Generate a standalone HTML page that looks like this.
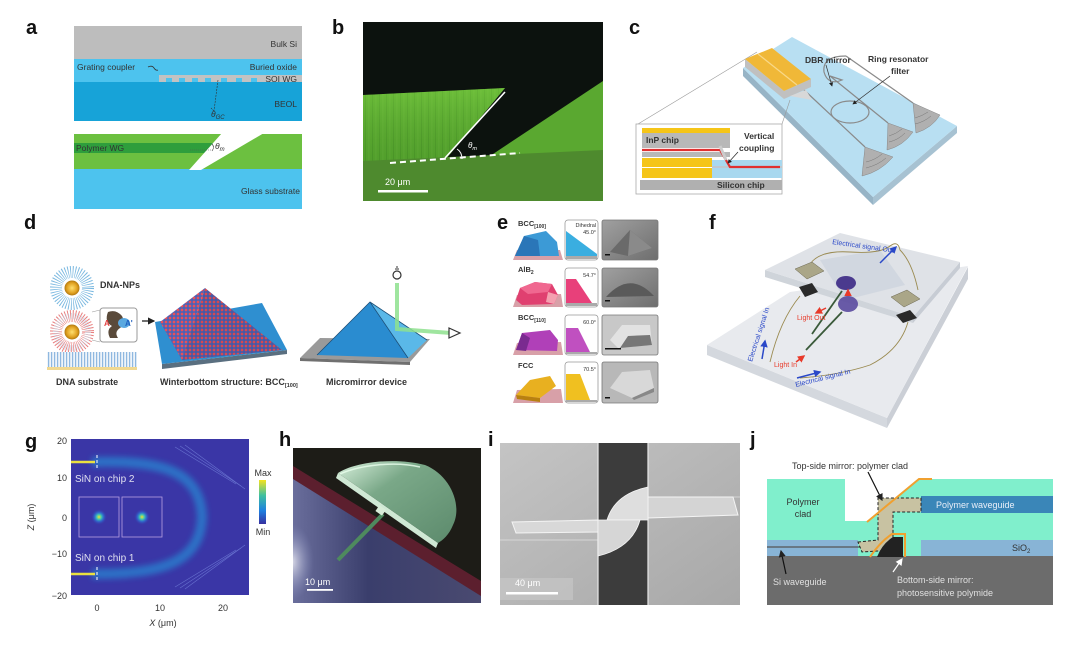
<!DOCTYPE html>
<html><head><meta charset="utf-8"><style>
html,body{margin:0;padding:0;background:#fff;}
svg{display:block;font-family:"Liberation Sans",Arial,sans-serif;}
</style></head><body>
<svg width="1080" height="651" viewBox="0 0 1080 651" xmlns="http://www.w3.org/2000/svg">
<defs>
<pattern id="pd" width="4" height="4" patternUnits="userSpaceOnUse"><rect width="4" height="4" fill="#4a62b8"/><circle cx="2" cy="2" r="1.35" fill="#e8505a"/></pattern>
<pattern id="strand" width="3" height="10" patternUnits="userSpaceOnUse"><rect width="3" height="10" fill="#eef4fa"/><rect x="0" width="1.2" height="10" fill="#8fb8e0"/></pattern>
<pattern id="bstreak" width="7" height="40" patternUnits="userSpaceOnUse"><rect width="7" height="40" fill="#62b534"/><rect x="1" width="1" height="40" fill="#4a9628" opacity=".5"/><rect x="4.5" width="0.8" height="40" fill="#80c84c" opacity=".5"/></pattern>
<linearGradient id="cb" x1="0" y1="0" x2="0" y2="1"><stop offset="0" stop-color="#f5e21e"/><stop offset=".35" stop-color="#3fc0a0"/><stop offset=".7" stop-color="#1e7fe0"/><stop offset="1" stop-color="#3630a0"/></linearGradient>
<radialGradient id="spot"><stop offset="0" stop-color="#f2e030"/><stop offset=".3" stop-color="#40c8b0"/><stop offset=".6" stop-color="#2a80e0" stop-opacity=".6"/><stop offset="1" stop-color="#3a38a8" stop-opacity="0"/></radialGradient>
<radialGradient id="gold"><stop offset="0" stop-color="#ffe070"/><stop offset=".7" stop-color="#e0a020"/><stop offset="1" stop-color="#b07810"/></radialGradient>
<radialGradient id="hglow"><stop offset="0" stop-color="#e8e8f0" stop-opacity=".9"/><stop offset="1" stop-color="#8890c0" stop-opacity="0"/></radialGradient>
<linearGradient id="sem" x1="0" y1="0" x2="1" y2="1"><stop offset="0" stop-color="#a0a0a0"/><stop offset="1" stop-color="#6e6e6e"/></linearGradient>
<linearGradient id="igr" x1="0" y1="0" x2="1" y2="1"><stop offset="0" stop-color="#c4c4c4"/><stop offset="1" stop-color="#a8a8a8"/></linearGradient>
<linearGradient id="hnavy" x1="0" y1="0" x2="1" y2="0"><stop offset="0" stop-color="#6a6e9c"/><stop offset=".4" stop-color="#3a3e6c"/><stop offset="1" stop-color="#4a4a70"/></linearGradient>
<linearGradient id="mir" x1="0" y1="0" x2="1" y2="1"><stop offset="0" stop-color="#d8f0dc"/><stop offset=".35" stop-color="#7aa888"/><stop offset="1" stop-color="#5c8a6c"/></linearGradient>
<linearGradient id="bgl" x1="0" y1="0" x2="0" y2="1"><stop offset="0" stop-color="#78c840" stop-opacity=".5"/><stop offset="1" stop-color="#2a6a18" stop-opacity=".3"/></linearGradient>
<filter id="bl3"><feGaussianBlur stdDeviation="3"/></filter>
<filter id="bl1"><feGaussianBlur stdDeviation="1.2"/></filter>
<clipPath id="cg"><rect x="71" y="439" width="178" height="156"/></clipPath>
<clipPath id="chh"><rect x="293" y="448" width="188" height="155"/></clipPath>
<clipPath id="cbb"><rect x="363" y="22" width="240" height="179"/></clipPath>
<marker id="ah" markerWidth="6" markerHeight="6" refX="5" refY="3" orient="auto"><path d="M0,0 L6,3 L0,6 Z" fill="#222"/></marker>
<marker id="ahw" markerWidth="6" markerHeight="6" refX="5" refY="3" orient="auto"><path d="M0,0 L6,3 L0,6 Z" fill="#fff"/></marker>
<marker id="ahr" markerWidth="5" markerHeight="5" refX="4" refY="2.5" orient="auto"><path d="M0,0 L5,2.5 L0,5 Z" fill="#e83a2a"/></marker>
<marker id="ahb" markerWidth="5" markerHeight="5" refX="4" refY="2.5" orient="auto"><path d="M0,0 L5,2.5 L0,5 Z" fill="#2a48c8"/></marker>
</defs>
<rect width="1080" height="651" fill="#fff"/>

<!-- panel letters -->
<g font-weight="bold" font-size="20" fill="#111">
<text x="26" y="34">a</text>
<text x="332" y="34">b</text>
<text x="629" y="34">c</text>
<text x="24" y="229">d</text>
<text x="497" y="229">e</text>
<text x="709" y="229">f</text>
<text x="25" y="448">g</text>
<text x="279" y="446">h</text>
<text x="488" y="446">i</text>
<text x="750" y="446">j</text>
</g>

<!-- ===== Panel a ===== -->
<rect x="74" y="26" width="228" height="34" fill="#bdbdbd"/>
<rect x="74" y="59" width="228" height="24" fill="#4dc3ee"/>
<rect x="74" y="82" width="228" height="39" fill="#17a3d8"/>
<rect x="159" y="75" width="143" height="7" fill="#c2c2c2"/>
<g fill="#4dc3ee"><rect x="166" y="78" width="6" height="4"/><rect x="179" y="78" width="6" height="4"/><rect x="192" y="78" width="6" height="4"/><rect x="205" y="78" width="6" height="4"/><rect x="221" y="78" width="6" height="4"/><rect x="236" y="78" width="6" height="4"/><rect x="251" y="78" width="6" height="4"/></g>
<path d="M218,80 L214,111 M214,111 l-3,-3" stroke="#333" stroke-width=".6" fill="none" stroke-dasharray="2 1"/>
<path d="M148,67 q4,-2 6,1 q2,3 4,2" stroke="#333" stroke-width=".8" fill="none"/>
<g font-size="8.5" fill="#333">
<text x="297" y="47" text-anchor="end">Bulk Si</text>
<text x="77" y="70">Grating coupler</text>
<text x="297" y="70" text-anchor="end">Buried oxide</text>
<text x="297" y="82" text-anchor="end">SOI WG</text>
<text x="297" y="107" text-anchor="end">BEOL</text>
<text x="211" y="117" font-style="italic">θ<tspan font-size="6" dy="2">GC</tspan></text>
</g>
<rect x="74" y="134" width="228" height="36" fill="#6cc040"/>
<rect x="74" y="143" width="140" height="10" fill="#2e9e3c"/>
<rect x="74" y="169" width="228" height="40" fill="#4dc3ee"/>
<polygon points="222,133 264,133 201,170 189,170" fill="#fff"/>
<path d="M190,150 L212,150" stroke="#555" stroke-width=".6" stroke-dasharray="1 1"/>
<path d="M212,144 q3,3 0,7" stroke="#333" stroke-width=".6" fill="none"/>
<g font-size="8.5" fill="#333">
<text x="76" y="151">Polymer WG</text>
<text x="215" y="149" font-style="italic">θ<tspan font-size="6" dy="2">m</tspan></text>
<text x="300" y="194" text-anchor="end">Glass substrate</text>
</g>

<!-- ===== Panel b ===== -->
<g clip-path="url(#cbb)">
<rect x="363" y="22" width="240" height="179" fill="#0c120e"/>
<polygon points="363,95 505,88 446,159 363,163" fill="url(#bstreak)"/>
<polygon points="363,95 505,88 446,159 363,163" fill="url(#bgl)"/>
<polygon points="490,156 603,81 603,152" fill="#5aa830"/>
<polygon points="363,161 603,150 603,201 363,201" fill="#4e8a2e"/>
</g>
<path d="M390,163 L520,153" stroke="#fff" stroke-width="2" stroke-dasharray="6 4"/>
<path d="M445,158 L505,92" stroke="#fff" stroke-width="1.6"/>
<path d="M457,149 q5,3 5,10" stroke="#fff" stroke-width="1" fill="none"/>
<text x="468" y="148" font-size="8" fill="#fff" font-style="italic">θ<tspan font-size="5.5" dy="2">m</tspan></text>
<text x="385" y="185" font-size="9" fill="#fff">20 μm</text>
<rect x="378" y="190" width="50" height="2.5" fill="#fff"/>

<!-- ===== Panel c ===== -->
<polygon points="743,68 873,197 873,205 743,76" fill="#97b4c6"/>
<polygon points="873,197 957,126 957,133 873,205" fill="#a7c2d2"/>
<polygon points="743,68 792,37 957,126 873,197" fill="#b8dff2"/>
<path d="M638,124 L757,52" stroke="#999" stroke-width=".6" fill="none"/>
<path d="M782,124 L790,100" stroke="#999" stroke-width=".6" fill="none"/>
<g stroke="#8a8a8a" stroke-width="1.2" fill="none">
<path d="M802,88 L865,147"/>
<path d="M830,76 L888,123"/>
<path d="M846,56 L913,103"/>
<path d="M846,56 Q822,56 824,72 Q828,86 842,80 L830,76"/>
<ellipse cx="850" cy="112" rx="19" ry="11"/>
</g>
<g fill="#b0b0b0" stroke="#888" stroke-width=".5">
<path d="M865,147 L862,176 Q880,172 893,157 Z"/>
<path d="M888,123 L887,150 Q903,146 913,132 Z"/>
<path d="M913,103 L916,133 Q932,128 940,115 Z"/>
</g>
<g stroke="#777" stroke-width=".5" fill="none">
<path d="M866,168 Q878,165 886,158 M866,162 Q875,160 882,154"/>
<path d="M889,142 Q898,140 905,133 M889,136 Q896,134 902,129"/>
<path d="M915,124 Q924,122 931,116 M915,118 Q922,116 928,112"/>
</g>
<polygon points="745,67 784,99 811,87 811,79 784,91 745,59" fill="#c0c0c0"/>
<polygon points="745,59 772,48 811,79 784,91" fill="#f0b838"/>
<path d="M758,54 L797,85" stroke="#f8d888" stroke-width="1.2"/>
<polygon points="790,96 806,90 812,100" fill="#d8d8d8"/>
<rect x="636" y="124" width="146" height="70" fill="#fff" stroke="#aaa" stroke-width=".8"/>
<rect x="642" y="128" width="88" height="5" fill="#f5c518"/>
<rect x="642" y="133" width="88" height="15" fill="#b8b8b8"/>
<rect x="642" y="152" width="88" height="5" fill="#b8b8b8"/>
<rect x="642" y="158" width="70" height="9" fill="#f5c518"/>
<rect x="642" y="168" width="70" height="10" fill="#f5c518"/>
<rect x="712" y="160" width="70" height="18" fill="#a8d8ef"/>
<rect x="712" y="166" width="70" height="2" fill="#c0c8d0"/>
<rect x="640" y="180" width="142" height="10" fill="#b0b0b0"/>
<path d="M642,150 L720,150 L730,167 L780,167" stroke="#e03030" stroke-width="2.2" fill="none"/>
<path d="M720,146 L726,160" stroke="#ccc" stroke-width="3"/>
<path d="M738,152 L728,163" stroke="#222" stroke-width=".7" marker-end="url(#ah)"/>
<g font-size="8.5" font-weight="bold" fill="#333">
<text x="646" y="143">InP chip</text>
<text x="744" y="139">Vertical</text>
<text x="739" y="151">coupling</text>
<text x="717" y="188">Silicon chip</text>
<text x="805" y="63">DBR mirror</text>
<text x="868" y="62">Ring resonator</text>
<text x="891" y="74">filter</text>
</g>
<path d="M826,65 L832,86" stroke="#333" stroke-width=".7" marker-end="url(#ah)"/>
<path d="M890,76 L853,104" stroke="#333" stroke-width=".7" marker-end="url(#ah)"/>

<!-- ===== Panel d ===== -->
<circle cx="72" cy="288" r="16" fill="#fff" stroke="#7ab8e0" stroke-width="12" stroke-dasharray="0.8 1.5"/>
<circle cx="72" cy="288" r="7.5" fill="url(#gold)"/>
<circle cx="72" cy="332" r="16" fill="#fff" stroke="#e88080" stroke-width="12" stroke-dasharray="0.8 1.5"/>
<circle cx="72" cy="332" r="16" fill="none" stroke="#c8d8e8" stroke-width="6" stroke-dasharray="0.6 1.8"/>
<circle cx="72" cy="332" r="7.5" fill="url(#gold)"/>
<rect x="47" y="352" width="90" height="16" fill="url(#strand)"/>
<rect x="47" y="367" width="90" height="3" fill="#f0d890"/>
<rect x="100" y="308" width="37" height="34" rx="3" fill="#fff" stroke="#999" stroke-width="1"/>
<path d="M108,312 q8,-3 14,4 q4,8 -2,12 q-6,4 -2,10 l-8,0 q-4,-8 2,-12 q-8,-4 -4,-14z" fill="#5a4a3a"/>
<ellipse cx="124" cy="323" rx="6" ry="5" fill="#5aa8e0"/>
<text x="104" y="326" font-size="8" font-weight="bold" fill="#e04040">A</text>
<text x="125" y="326" font-size="8" font-weight="bold" fill="#2060c0">A'</text>
<path d="M92,312 L100,310 M92,340 L100,342" stroke="#999" stroke-width=".6"/>
<path d="M142,321 L154,321" stroke="#111" stroke-width="1.2" marker-end="url(#ah)"/>
<polygon points="162,364 287,350 287,354 162,369" fill="#5a6f80"/>
<polygon points="155,322 262,303 287,350 162,364" fill="#2f8fd0"/>
<polygon points="160,322 205,288 182,360" fill="url(#pd)"/>
<polygon points="182,360 205,288 282,350" fill="url(#pd)"/>
<polygon points="182,360 205,288 282,350" fill="#000" opacity=".08"/>
<polygon points="300,358 320,338 430,339 410,362" fill="#9a9a9a"/>
<polygon points="300,358 410,362 410,365 300,361" fill="#707070"/>
<polygon points="317,355 370,302 408,358" fill="#2a8cd0"/>
<polygon points="408,358 370,302 427,340" fill="#5ab8e8"/>
<path d="M317,355 L370,302 L408,358 M370,302 L427,340" stroke="#1d4f78" stroke-width=".8" fill="none"/>
<path d="M397,283 L397,329 L451,333" stroke="#8ee08e" stroke-width="4" fill="none" opacity=".85"/>
<circle cx="397" cy="275" r="4" fill="#fff" stroke="#333" stroke-width="1.2"/>
<path d="M395,269 L399,269 M396,267 L398,267" stroke="#333" stroke-width="1"/>
<polygon points="449,328 460,333 449,338" fill="#fff" stroke="#333" stroke-width="1.2"/>
<g font-size="9" font-weight="bold" fill="#333">
<text x="100" y="288">DNA-NPs</text>
<text x="56" y="385">DNA substrate</text>
<text x="160" y="385">Winterbottom structure: BCC<tspan font-size="5.5" dy="2">[100]</tspan></text>
<text x="326" y="385">Micromirror device</text>
</g>

<!-- ===== Panel e ===== -->
<g font-size="7.5" font-weight="bold" fill="#333">
<text x="518" y="226">BCC<tspan font-size="5" dy="2">[100]</tspan></text>
<text x="518" y="272">AlB<tspan font-size="5" dy="2">2</tspan></text>
<text x="518" y="320">BCC<tspan font-size="5" dy="2">[110]</tspan></text>
<text x="518" y="368">FCC</text>
</g>
<polygon points="513,260 517,250 560,250 563,260" fill="#d8a0a8"/>
<polygon points="515,256 524,236 546,231 557,242 559,256" fill="#3c9ad6"/>
<polygon points="515,256 524,236 538,240 540,256" fill="#2a76b8"/>
<polygon points="513,307 517,295 561,294 563,307" fill="#d8a0a8"/>
<polygon points="516,300 520,288 535,282 552,284 558,295 554,304 522,305" fill="#e04070"/>
<polygon points="520,288 535,282 552,284 548,292 528,294" fill="#f06890"/>
<polygon points="548,292 558,295 554,304 546,302" fill="#f4a0b0"/>
<polygon points="513,355 517,343 561,342 563,355" fill="#d8a0a8"/>
<polygon points="516,350 522,333 550,330 558,340 557,351" fill="#b040b8"/>
<polygon points="516,350 522,333 530,338 526,351" fill="#7a2a90"/>
<polygon points="513,403 517,390 561,389 563,403" fill="#d8a0a8"/>
<polygon points="516,395 530,380 550,376 556,386 540,398" fill="#e8b020"/>
<polygon points="516,395 540,398 540,402 517,399" fill="#b88010"/>
<g fill="#fff" stroke="#999" stroke-width=".8">
<rect x="565" y="220" width="33" height="40" rx="3"/>
<rect x="565" y="268" width="33" height="39" rx="3"/>
<rect x="565" y="315" width="33" height="40" rx="3"/>
<rect x="565" y="362" width="33" height="41" rx="3"/>
</g>
<polygon points="566,231 566,256 597,256 597,254" fill="#3aaee0"/>
<polygon points="566,279 576,279 592,303 566,303" fill="#e8407a"/>
<polygon points="566,328 578,328 590,352 566,352" fill="#c050c0"/>
<polygon points="566,374 580,374 590,400 566,400" fill="#f0c020"/>
<g fill="#aaa"><rect x="566" y="256" width="31" height="3"/><rect x="566" y="303" width="31" height="3"/><rect x="566" y="352" width="31" height="2"/><rect x="566" y="400" width="31" height="2"/></g>
<g font-size="5.5" fill="#333" text-anchor="end">
<text x="596" y="227">Dihedral</text>
<text x="596" y="234">45.0°</text>
<text x="596" y="277">54.7°</text>
<text x="596" y="324">60.0°</text>
<text x="596" y="371">70.5°</text>
</g>
<g stroke="#777" stroke-width=".8">
<rect x="602" y="220" width="56" height="40" rx="2" fill="url(#sem)"/>
<rect x="602" y="268" width="56" height="39" rx="2" fill="url(#sem)"/>
<rect x="602" y="315" width="56" height="40" rx="2" fill="#c8c8c8"/>
<rect x="602" y="362" width="56" height="41" rx="2" fill="#b8b8b8"/>
</g>
<polygon points="610,252 630,230 652,248 628,256" fill="#6a6a6a"/>
<polygon points="630,230 652,248 628,256" fill="#8a8a8a"/>
<path d="M606,297 Q630,270 654,296 Z" fill="#5a5a5a"/>
<polygon points="610,340 622,325 650,325 652,345 618,348" fill="#e2e2e2"/>
<polygon points="628,336 650,335 652,345 620,348" fill="#777"/>
<polygon points="610,388 622,372 650,370 654,388 632,398" fill="#d8d8d8"/>
<polygon points="632,398 654,388 654,392 634,400" fill="#888"/>
<g fill="#111"><rect x="605" y="254" width="5" height="1.5"/><rect x="605" y="300" width="5" height="1.5"/><rect x="605" y="348" width="16" height="1.5"/><rect x="605" y="397" width="5" height="1.5"/></g>

<!-- ===== Panel f ===== -->
<polygon points="707,345 887,418 887,428 707,355" fill="#d4d8de"/>
<polygon points="887,418 968,267 968,279 887,428" fill="#cbcfd6"/>
<polygon points="707,345 790,292 968,266 887,418" fill="#e8eaee"/>
<polygon points="765,270 913,317 913,323 765,277" fill="#cfd4da"/>
<polygon points="913,317 960,262 960,268 913,323" fill="#c7ccd4"/>
<polygon points="765,270 840,233 960,262 913,317" fill="#dfe2e7"/>
<polygon points="820,260 880,250 905,285 845,300" fill="#c8d0dc" opacity=".6"/>
<g stroke="#9a8a50" stroke-width=".9" fill="none">
<path d="M810,264 Q820,250 850,252 Q880,254 890,246 Q898,240 900,250 Q912,262 918,290"/>
<path d="M800,296 Q780,320 770,362"/>
<path d="M908,322 Q900,350 870,365 Q840,375 800,378"/>
</g>
<polygon points="795,269 812,262 824,271 807,279" fill="#aaa688" stroke="#6a6650" stroke-width=".5"/>
<polygon points="799,287 812,283 818,292 805,297" fill="#2a2a2a"/>
<polygon points="891,297 907,290 920,299 904,307" fill="#aaa688" stroke="#6a6650" stroke-width=".5"/>
<polygon points="896,315 910,310 917,318 903,323" fill="#2a2a2a"/>
<ellipse cx="846" cy="283" rx="10" ry="7" fill="#4a3a8e"/>
<ellipse cx="848" cy="304" rx="10" ry="8" fill="#5a4a9e" opacity=".9"/>
<path d="M842,291 L812,334" stroke="#3a5a3a" stroke-width="1.8"/>
<path d="M842,312 L806,350" stroke="#3a5a3a" stroke-width="1.8"/>
<path d="M848,296 L848,290" stroke="#e83a2a" stroke-width="1.5" marker-end="url(#ahr)"/>
<path d="M826,308 L816,313" stroke="#e83a2a" stroke-width="1.5" marker-end="url(#ahr)"/>
<path d="M796,362 L804,356" stroke="#e83a2a" stroke-width="1.5" marker-end="url(#ahr)"/>
<path d="M880,263 L896,247" stroke="#2a48c8" stroke-width="1.5" marker-end="url(#ahb)"/>
<path d="M762,359 L765,341" stroke="#2a48c8" stroke-width="1.5" marker-end="url(#ahb)"/>
<path d="M797,378 L820,372" stroke="#2a48c8" stroke-width="1.5" marker-end="url(#ahb)"/>
<g font-size="7" fill="#2a48c8">
<text x="832" y="244" transform="rotate(8 832 244)">Electrical signal Out</text>
<text x="752" y="362" transform="rotate(-72 752 362)">Electrical signal In</text>
<text x="796" y="387" transform="rotate(-14 796 387)">Electrical signal In</text>
</g>
<g font-size="7" fill="#e83a2a">
<text x="797" y="320">Light Out</text>
<text x="774" y="367">Light In</text>
</g>

<!-- ===== Panel g ===== -->
<g clip-path="url(#cg)">
<rect x="71" y="439" width="178" height="156" fill="#3a36a6"/>
<path d="M92,462 C160,460 200,470 202,517 C200,564 160,574 92,574" stroke="#22a0e0" stroke-width="10" fill="none" opacity=".55" filter="url(#bl3)"/>
<path d="M71,462 L150,462" stroke="#30b8d8" stroke-width="5" opacity=".7" filter="url(#bl1)"/>
<path d="M71,574 L150,574" stroke="#30b8d8" stroke-width="5" opacity=".7" filter="url(#bl1)"/>
<g stroke="#7a8ae0" stroke-width=".6" opacity=".7" fill="none">
<path d="M175,447 L236,484"/><path d="M180,446 L241,486"/><path d="M185,445 L245,489"/>
<path d="M175,587 L236,550"/><path d="M180,588 L241,548"/><path d="M185,589 L245,545"/>
</g>
<path d="M71,462 L95,462" stroke="#eae040" stroke-width="2.5"/>
<path d="M71,574 L95,574" stroke="#eae040" stroke-width="2.5"/>
<path d="M97,455 L97,470 M97,567 L97,582" stroke="#fff" stroke-width="1" stroke-dasharray="3 2"/>
<rect x="79" y="497" width="40" height="40" fill="none" stroke="#b8a0e0" stroke-width=".8"/>
<rect x="122" y="497" width="40" height="40" fill="none" stroke="#b8a0e0" stroke-width=".8"/>
<circle cx="99" cy="517" r="8" fill="url(#spot)"/>
<circle cx="142" cy="517" r="8" fill="url(#spot)"/>
<text x="75" y="482" font-size="10" fill="#e0e0f0">SiN on chip 2</text>
<text x="75" y="561" font-size="10" fill="#e0e0f0">SiN on chip 1</text>
</g>
<rect x="259" y="480" width="7" height="44" fill="url(#cb)"/>
<g font-size="9" fill="#333">
<text x="263" y="476" text-anchor="middle">Max</text>
<text x="263" y="535" text-anchor="middle">Min</text>
<text x="67" y="444" text-anchor="end">20</text>
<text x="67" y="481" text-anchor="end">10</text>
<text x="67" y="521" text-anchor="end">0</text>
<text x="67" y="557" text-anchor="end">−10</text>
<text x="67" y="599" text-anchor="end">−20</text>
<text x="97" y="611" text-anchor="middle">0</text>
<text x="160" y="611" text-anchor="middle">10</text>
<text x="223" y="611" text-anchor="middle">20</text>
<text x="163" y="626" text-anchor="middle"><tspan font-style="italic">X</tspan> (μm)</text>
<text x="34" y="517" text-anchor="middle" transform="rotate(-90 34 517)"><tspan font-style="italic">Z</tspan> (μm)</text>
</g>

<!-- ===== Panel h ===== -->
<g clip-path="url(#chh)">
<rect x="293" y="448" width="188" height="155" fill="#1d1c17"/>
<polygon points="293,476 481,594 481,603 293,603" fill="url(#hnavy)"/>
<polygon points="293,466 481,581 481,596 293,479" fill="#5c1f2e"/>
<ellipse cx="292" cy="562" rx="22" ry="38" fill="url(#hglow)"/>
<path d="M336,478 L436,548 L438,543 L338,473 Z" fill="#cfe8d4"/>
<path d="M338,473 C355,462 395,457 425,465 C450,475 463,505 453,525 C449,535 443,540 438,543 Z" fill="url(#mir)"/>
<path d="M340,474 C360,465 395,461 420,467" stroke="#eaffee" stroke-width="1.5" fill="none" opacity=".8"/>
<path d="M383,514 L338,560" stroke="#4e8a5e" stroke-width="4"/>
<rect x="377" y="507" width="8" height="7" fill="#d8ecd8" transform="rotate(35 381 510)"/>
<text x="305" y="585" font-size="9" fill="#fff">10 μm</text>
<rect x="307" y="589" width="26" height="1.8" fill="#fff"/>
</g>

<!-- ===== Panel i ===== -->
<rect x="500" y="443" width="240" height="162" fill="url(#igr)"/>
<path d="M500,540 L598,540 M648,497 L740,497" stroke="#e0e0e0" stroke-width=".8"/>
<polygon points="598,443 648,443 648,605 598,605" fill="#3c3c3c"/>
<path d="M598,443 L598,605 M648,443 L648,605" stroke="#e8e8e8" stroke-width="1.2"/>
<polygon points="512,522 598,520 598,532 516,533" fill="#d8d8d8" stroke="#f4f4f4" stroke-width="1"/>
<polygon points="648,497 733,497 738,515 648,518" fill="#d4d4d4" stroke="#f4f4f4" stroke-width="1"/>
<path d="M607,520 Q615,494 648,487 L648,520 Z" fill="#dedede" stroke="#f6f6f6" stroke-width=".8"/>
<path d="M598,520 L640,520 Q632,548 598,556 Z" fill="#d6d6d6" stroke="#f6f6f6" stroke-width=".8"/>
<rect x="500" y="578" width="73" height="22" fill="#c6c6c6" opacity=".7"/>
<text x="515" y="586" font-size="9" fill="#fff">40 μm</text>
<rect x="506" y="592" width="52" height="2.5" fill="#fff"/>

<!-- ===== Panel j ===== -->
<rect x="767" y="479" width="286" height="78" fill="#80efcc"/>
<polygon points="845,479 919,479 867,521 845,521" fill="#fff"/>
<rect x="767" y="540" width="91" height="16" fill="#88b4d6"/>
<rect x="921" y="540" width="132" height="16" fill="#88b4d6"/>
<rect x="767" y="556" width="286" height="49" fill="#6c6c6c"/>
<path d="M767,547 L862,547" stroke="#555" stroke-width="1.2"/>
<rect x="921" y="496" width="132" height="17" fill="#3a86b8"/>
<path d="M858,542 L878,540 L878,498 L921,498 L921,512 L893,512 L893,550 L862,552 Z" fill="#c8c2a2" stroke="#222" stroke-width="1" stroke-dasharray="3 2"/>
<path d="M877,557 Q882,544 893,537 L903,537 L903,557 Z" fill="#222"/>
<path d="M870,557 Q880,542 892,534 L905,534 L905,557" stroke="#f0a030" stroke-width="2" fill="none"/>
<path d="M867,522 L919,479 L932,479" stroke="#f0a030" stroke-width="2" fill="none"/>
<path d="M868,472 L882,500" stroke="#111" stroke-width="1.2" marker-end="url(#ah)"/>
<path d="M786,574 L781,551" stroke="#111" stroke-width="1.2" marker-end="url(#ah)"/>
<path d="M893,572 L902,559" stroke="#fff" stroke-width="1.2" marker-end="url(#ahw)"/>
<g font-size="9" fill="#333">
<text x="792" y="469">Top-side mirror: polymer clad</text>
<text x="803" y="505" text-anchor="middle">Polymer</text>
<text x="803" y="517" text-anchor="middle">clad</text>
</g>
<g font-size="9" fill="#e8eef8">
<text x="936" y="508">Polymer waveguide</text>
</g>
<text x="1012" y="551" font-size="9" fill="#333">SiO<tspan font-size="6" dy="2">2</tspan></text>
<g font-size="9" fill="#e0e0e0">
<text x="773" y="585">Si waveguide</text>
<text x="897" y="583">Bottom-side mirror:</text>
<text x="897" y="596">photosensitive polymide</text>
</g>
</svg>
</body></html>
